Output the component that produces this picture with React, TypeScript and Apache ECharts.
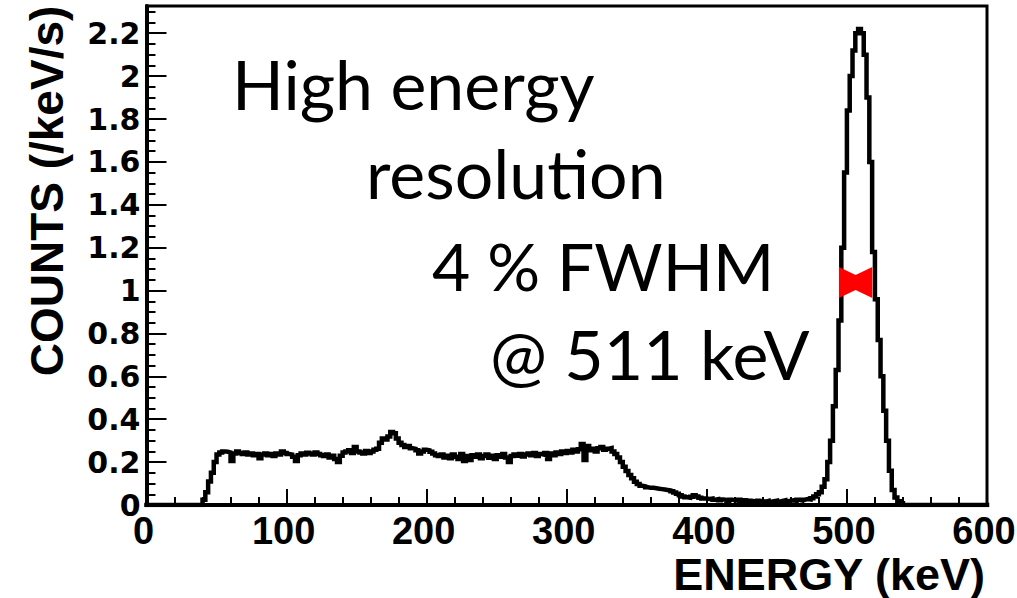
import { useEffect, useRef } from "react";
import * as echarts from "echarts";

// Spectrum binning (keV per bin) and full energy range
const binWidth = 2;
const energyMax = 600;

// Counts per bin (/keV/s), 2 keV bins, grouped by 100 keV ranges
const counts0to100 = [
  0, 0, 0, 0, 0, 0, 0, 0, 0, 0,
  0, 0, 0, 0, 0, 0, 0, 0, 0, 0,
  0.025, 0.06, 0.11, 0.15, 0.2, 0.235, 0.245, 0.25, 0.248, 0.245,
  0.205, 0.24, 0.25, 0.243, 0.238, 0.245, 0.236, 0.24, 0.232, 0.238,
  0.218, 0.235, 0.24, 0.232, 0.238, 0.228, 0.24, 0.236, 0.25, 0.242,
];
const counts100to200 = [
  0.238, 0.235, 0.225, 0.205, 0.232, 0.24, 0.236, 0.244, 0.24, 0.236,
  0.245, 0.238, 0.232, 0.228, 0.235, 0.222, 0.23, 0.215, 0.2, 0.23,
  0.245, 0.25, 0.255, 0.242, 0.27, 0.25, 0.245, 0.24, 0.252, 0.243,
  0.25, 0.258, 0.262, 0.29, 0.31, 0.305, 0.32, 0.34, 0.335, 0.31,
  0.29, 0.28, 0.27, 0.275, 0.265, 0.262, 0.255, 0.24, 0.25, 0.258,
];
const counts200to300 = [
  0.255, 0.248, 0.24, 0.232, 0.228, 0.236, 0.222, 0.23, 0.218, 0.235,
  0.225, 0.215, 0.238, 0.205, 0.228, 0.21, 0.232, 0.225, 0.235, 0.218,
  0.228, 0.236, 0.22, 0.23, 0.215, 0.232, 0.225, 0.238, 0.222, 0.2,
  0.228, 0.235, 0.23, 0.238, 0.226, 0.235, 0.24, 0.232, 0.242, 0.228,
  0.238, 0.235, 0.242, 0.215, 0.24, 0.232, 0.245, 0.238, 0.25, 0.242,
];
const counts300to400 = [
  0.252, 0.245, 0.258, 0.25, 0.26, 0.285, 0.21, 0.275, 0.255, 0.262,
  0.25, 0.265, 0.27, 0.258, 0.262, 0.265, 0.25, 0.238, 0.222, 0.2,
  0.178, 0.158, 0.14, 0.125, 0.108, 0.098, 0.09, 0.087, 0.083, 0.08,
  0.08, 0.078, 0.076, 0.074, 0.072, 0.07, 0.068, 0.064, 0.058, 0.052,
  0.045, 0.04, 0.036, 0.034, 0.038, 0.045, 0.04, 0.034, 0.03, 0.03,
];
const counts400to500 = [
  0.028, 0.03, 0.025, 0.027, 0.022, 0.026, 0.024, 0.02, 0.025, 0.022,
  0.02, 0.024, 0.018, 0.022, 0.016, 0.02, 0.018, 0.015, 0.02, 0.017,
  0.016, 0.019, 0.015, 0.018, 0.02, 0.016, 0.019, 0.022, 0.018, 0.02,
  0.022, 0.019, 0.024, 0.021, 0.025, 0.028, 0.026, 0.032, 0.04, 0.05,
  0.06, 0.085, 0.12, 0.2, 0.3, 0.46, 0.63, 0.86, 1.2, 1.55,
];
const counts500to600 = [
  1.84, 2.0, 2.12, 2.2, 2.22, 2.2, 2.1, 1.9, 1.6, 1.18,
  0.96, 0.77, 0.6, 0.44, 0.3, 0.16, 0.07, 0.035, 0.018, 0.008,
  0, 0, 0, 0, 0, 0, 0, 0, 0, 0,
  0, 0, 0, 0, 0, 0, 0, 0, 0, 0,
  0, 0, 0, 0, 0, 0, 0, 0, 0, 0,
];

// Full-width-at-half-maximum marker of the 511 keV photopeak
const fwhmLow = 494.3;
const fwhmHigh = 518.1;
const fwhmLevel = 1.038;

const annotationLines = ["High energy", "resolution", "4 % FWHM", "@ 511 keV"];
const yTitle = "COUNTS (/keV/s)";
const xTitle = "ENERGY (keV)";

const spectrum = [
  ...counts0to100,
  ...counts100to200,
  ...counts200to300,
  ...counts300to400,
  ...counts400to500,
  ...counts500to600,
];

// Histogram outline: each bin starts at its lower edge, closed at the range end
const histogramPoints: [number, number][] = spectrum.map((v, i) => [i * binWidth, v]);
histogramPoints.push([energyMax, spectrum[spectrum.length - 1]]);

export default function App() {
  const ref = useRef<HTMLDivElement>(null);

  useEffect(() => {
    document.body.style.margin = "0";
    document.documentElement.style.overflow = "hidden";
    document.body.style.overflow = "hidden";
    if (!ref.current) return;
    const chart = echarts.init(ref.current, undefined, { renderer: "svg", width: 1017, height: 598 });

    const annotationLayout = [
      { x: 232, y: 83 },
      { x: 366, y: 172 },
      { x: 432, y: 265 },
      { x: 490, y: 353 },
    ];

    chart.setOption({
      animation: false,
      backgroundColor: "#fff",
      grid: {
        left: 146.5,
        right: 30,
        top: 6,
        bottom: 93,
        show: true,
        borderColor: "#000",
        borderWidth: 3,
        containLabel: false,
        outerBoundsMode: "none",
      },
      xAxis: {
        type: "value",
        min: 0,
        max: energyMax,
        interval: 100,
        axisLine: { show: true, onZero: false, lineStyle: { color: "#000", width: 4 } },
        axisTick: { show: true, inside: true, length: 16, lineStyle: { color: "#000", width: 2 } },
        minorTick: { show: true, splitNumber: 5, length: 8, lineStyle: { color: "#000", width: 2 } },
        splitLine: { show: false },
        axisLabel: {
          fontFamily: "Liberation Sans",
          fontWeight: "bold",
          color: "#000",
          fontSize: 38,
          lineHeight: 28,
          margin: 12,
          padding: [0, 6, 0, 0],
        },
      },
      yAxis: {
        type: "value",
        min: 0,
        max: 2.327,
        interval: 0.2,
        axisLine: { show: true, onZero: false, lineStyle: { color: "#000", width: 4 } },
        axisTick: { show: true, inside: true, length: 20, lineStyle: { color: "#000", width: 2 } },
        minorTick: { show: true, splitNumber: 4, length: 9, lineStyle: { color: "#000", width: 2 } },
        splitLine: { show: false },
        axisLabel: {
          fontFamily: "DejaVu Sans",
          fontWeight: "bold",
          color: "#000",
          fontSize: 30,
          margin: 6,
          showMaxLabel: false,
          padding: [6, 0, 0, 0],
        },
      },
      series: [
        {
          type: "line",
          data: histogramPoints,
          step: "end",
          showSymbol: false,
          symbol: "none",
          lineStyle: { color: "#000", width: 4.5, join: "miter", cap: "square" },
          z: 3,
        },
        {
          type: "custom",
          data: [[fwhmLow, fwhmHigh, fwhmLevel]],
          clip: false,
          z: 5,
          renderItem: (_params: any, api: any) => {
            const left = api.coord([api.value(0), api.value(2)]);
            const right = api.coord([api.value(1), api.value(2)]);
            const midX = (left[0] + right[0]) / 2;
            const y = left[1];
            return {
              type: "polygon",
              shape: {
                points: [
                  [left[0], y - 15.5],
                  [midX, y - 7.5],
                  [right[0], y - 15.5],
                  [right[0], y + 15.5],
                  [midX, y + 7.5],
                  [left[0], y + 15.5],
                ],
              },
              style: { fill: "#ff0000" },
            };
          },
        },
      ],
      graphic: [
        ...annotationLines.map((t, i) => ({
          type: "text",
          x: annotationLayout[i].x,
          y: annotationLayout[i].y,
          z: 10,
          style: {
            text: t,
            fontFamily: "Lato",
            fontSize: i === 2 ? 66 : 68,
            fill: "#000",
            align: "left",
            verticalAlign: "middle",
          },
        })),
        {
          type: "text",
          x: 47,
          y: 191,
          rotation: Math.PI / 2,
          style: {
            text: yTitle,
            fontFamily: "Liberation Sans",
            fontWeight: "bold",
            fontSize: 46,
            fill: "#000",
            align: "center",
            verticalAlign: "middle",
          },
        },
        {
          type: "text",
          x: 985,
          y: 574,
          style: {
            text: xTitle,
            fontFamily: "Liberation Sans",
            fontWeight: "bold",
            fontSize: 45,
            lineHeight: 34,
            fill: "#000",
            align: "right",
            verticalAlign: "middle",
          },
        },
      ],
    });

    return () => chart.dispose();
  }, []);

  return (
    <div
      ref={ref}
      style={{ position: "fixed", left: 0, top: 0, width: 1017, height: 598 }}
    />
  );
}
